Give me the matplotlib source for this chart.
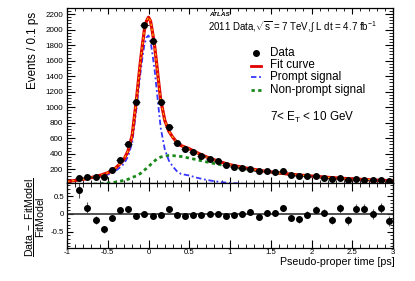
import numpy as np
import matplotlib
matplotlib.use('Agg')
import matplotlib.pyplot as plt

plt.rcParams['font.family'] = 'Liberation Sans'
plt.rcParams['mathtext.fontset'] = 'custom'
plt.rcParams['mathtext.rm'] = 'Liberation Sans'
plt.rcParams['mathtext.it'] = 'Liberation Sans:italic'
plt.rcParams['mathtext.bf'] = 'Liberation Sans:bold'

# data: bin centres (0.1 ps bins), events, residuals
bin_x = [-0.85, -0.75, -0.65, -0.55, -0.45, -0.35, -0.25, -0.15, -0.05, 0.05,
         0.15, 0.25, 0.35, 0.45, 0.55, 0.65, 0.75, 0.85, 0.95, 1.05,
         1.15, 1.25, 1.35, 1.45, 1.55, 1.65, 1.75, 1.85, 1.95, 2.05,
         2.15, 2.25, 2.35, 2.45, 2.55, 2.65, 2.75, 2.85, 2.95]
events = [88, 100, 100, 100, 196, 316, 532, 1068, 2058, 1855,
          1068, 746, 540, 467, 428, 377, 338, 307, 260, 230,
          222, 204, 174, 178, 161, 174, 123, 110, 119, 114,
          93, 75, 93, 67, 80, 67, 58, 67, 49]
resid = [0.66, 0.18, -0.18, -0.43, -0.11, 0.12, 0.15, -0.05, 0.0, -0.05,
         -0.02, 0.13, -0.02, -0.06, -0.02, -0.03, 0.0, 0.0, -0.05, -0.03,
         0.0, 0.06, -0.09, 0.04, 0.03, 0.17, -0.10, -0.15, -0.02, 0.12,
         0.04, -0.17, 0.16, -0.18, 0.14, 0.14, 0.01, 0.17, -0.20]
resid_err = [0.20, 0.15, 0.11, 0.09, 0.07, 0.06, 0.05, 0.03, 0.02, 0.02,
             0.03, 0.04, 0.04, 0.05, 0.05, 0.05, 0.06, 0.06, 0.06, 0.07,
             0.07, 0.07, 0.08, 0.08, 0.08, 0.09, 0.09, 0.10, 0.10, 0.10,
             0.11, 0.11, 0.12, 0.12, 0.13, 0.13, 0.14, 0.14, 0.15]

# fit components
curve_x = [-1.0, -0.9, -0.8, -0.7, -0.6, -0.5, -0.45, -0.4, -0.35, -0.3,
           -0.25, -0.2, -0.15, -0.125, -0.1, -0.075, -0.05, -0.025, 0.0, 0.025,
           0.05, 0.075, 0.1, 0.125, 0.15, 0.2, 0.25, 0.3, 0.35, 0.4,
           0.5, 0.6, 0.7, 0.8, 0.9, 1.0, 1.2, 1.4, 1.6, 1.8,
           2.0, 2.2, 2.4, 2.6, 2.8, 3.0]
nonprompt = [0, 1, 3, 6, 12, 22, 28, 36, 46, 58,
             72, 95, 115, 130, 145, 167, 190, 212, 235, 260,
             285, 308, 330, 345, 358, 372, 378, 376, 371, 365,
             345, 322, 298, 276, 256, 234, 204, 175, 151, 130,
             112, 96, 82, 70, 60, 52]
prompt = [42, 55, 70, 88, 108, 133, 152, 184, 224, 272,
          368, 545, 965, 1200, 1435, 1633, 1810, 1898, 1925, 1850,
          1675, 1482, 1230, 975, 732, 458, 312, 234, 174, 140,
          120, 90, 66, 48, 34, 24, 11, 5, 2, 1,
          0, 0, 0, 0, 0, 0]
fit = np.array(prompt) + np.array(nonprompt)

W, H = 415, 281
fig = plt.figure(figsize=(W / 100, H / 100), dpi=100)
ax1 = fig.add_axes([67 / W, 1 - 182.5 / H, 326 / W, 174.2 / H])
ax2 = fig.add_axes([67 / W, 1 - 248.3 / H, 326 / W, 65.8 / H])

ax1.plot(curve_x, nonprompt, color='#1a8a1a', lw=2, ls=(0, (1.2, 1.2)))
ax1.plot(curve_x, prompt, color='#3535ff', lw=1.3, ls=(0, (3, 1.5, 1, 1.5)))
ax1.plot(curve_x, fit, color='#e00000', lw=2.3)
ax1.plot(curve_x, fit, color='#ffa800', lw=0.9, ls=(0, (2, 2)))
ax1.errorbar(bin_x, events, xerr=0.05, yerr=np.sqrt(events), fmt='o', color='black',
             ms=4, ecolor='#333333', elinewidth=0.8, capsize=0)

ax1.set_xlim(-1, 3)
ax1.set_ylim(30, 2275)
ax1.set_yticks(range(200, 2201, 200))
ax1.set_yticks(range(40, 2275, 40), minor=True)
ax1.set_xticks(np.arange(-1, 3.01, 0.5))
ax1.set_xticks(np.arange(-1, 3.01, 0.1), minor=True)
ax1.tick_params(axis='both', which='both', direction='in', top=True, right=True)
ax1.tick_params(axis='x', labelbottom=False)
ax1.tick_params(axis='y', which='major', length=6, labelsize=5.8, pad=3)
ax1.tick_params(axis='y', which='minor', length=3)
ax1.tick_params(axis='x', which='major', length=4.5)
ax1.tick_params(axis='x', which='minor', length=2.3)

ax2.axhline(0, color='#333333', lw=1.2)
ax2.errorbar(bin_x, resid, yerr=resid_err, fmt='o', color='black',
             ms=4, ecolor='#555555', elinewidth=0.8, capsize=0)
ax2.set_xlim(-1, 3)
ax2.set_ylim(-0.96, 0.88)
ax2.set_yticks([-0.5, 0, 0.5])
ax2.set_yticklabels(['-0.5', '0', '0.5'])
ax2.set_yticks(np.arange(-0.9, 0.85, 0.1), minor=True)
ax2.set_xticks(np.arange(-1, 3.01, 0.5))
ax2.set_xticklabels(['-1', '-0.5', '0', '0.5', '1', '1.5', '2', '2.5', '3'])
ax2.set_xticks(np.arange(-1, 3.01, 0.1), minor=True)
ax2.tick_params(axis='both', which='both', direction='in', top=True, right=True)
ax2.tick_params(axis='both', which='major', labelsize=5.6)
ax2.tick_params(axis='x', which='major', length=6, pad=0.5)
ax2.tick_params(axis='y', which='major', pad=2)
ax2.tick_params(axis='x', which='minor', length=3)
ax2.tick_params(axis='y', which='major', length=4.5)
ax2.tick_params(axis='y', which='minor', length=2.3)

for ax in (ax1, ax2):
    for s in ax.spines.values():
        s.set_linewidth(0.9)

fig.text(33 / W, 1 - 12 / H, 'Events / 0.1 ps', rotation=90, ha='center', va='top', fontsize=8.4)
fig.text(395 / W, 1 - 262 / H, 'Pseudo-proper time [ps]', ha='right', va='center', fontsize=7.7)
fig.text(35 / W, 1 - 217 / H, r'$\dfrac{\mathrm{Data\ -\ FitModel}}{\mathrm{FitModel}}$',
         rotation=90, ha='center', va='center', fontsize=7.6)

# ATLAS label and legend
fig.text(209 / W, 1 - 14 / H, 'ATLAS', fontsize=4.6, fontweight='bold', style='italic',
         ha='left', va='center')
fig.text(208 / W, 1 - 27 / H,
         r'2011 Data,$\sqrt{\mathrm{s}}$ = 7 TeV,$\int$ L dt = 4.7 fb$^{-1}$',
         fontsize=7, ha='left', va='center')

leg_y = [53.3, 65.5, 77.5, 90]
leg_txt = ['Data', 'Fit curve', 'Prompt signal', 'Non-prompt signal']
fig.add_artist(plt.Line2D([256 / W], [1 - leg_y[0] / H], marker='o', color='black', ms=4,
                          transform=fig.transFigure))
fig.add_artist(plt.Line2D([251 / W, 261 / W], [1 - leg_y[1] / H] * 2, color='#e00000', lw=2,
                          transform=fig.transFigure))
fig.add_artist(plt.Line2D([251 / W, 261 / W], [1 - leg_y[2] / H] * 2, color='#3535ff', lw=1.3,
                          ls=(0, (3, 1.5, 1, 1.5)), transform=fig.transFigure))
fig.add_artist(plt.Line2D([251 / W, 261 / W], [1 - leg_y[3] / H] * 2, color='#1a8a1a', lw=2,
                          ls=(0, (1.2, 1.2)), transform=fig.transFigure))
for yy, t in zip(leg_y, leg_txt):
    fig.text(270 / W, 1 - yy / H, t, fontsize=8.4, ha='left', va='center')

fig.text(270 / W, 1 - 117 / H, r'7< E$_{\mathrm{T}}$ < 10 GeV', fontsize=8.4,
         ha='left', va='center')

fig.savefig('out.png', dpi=100)
